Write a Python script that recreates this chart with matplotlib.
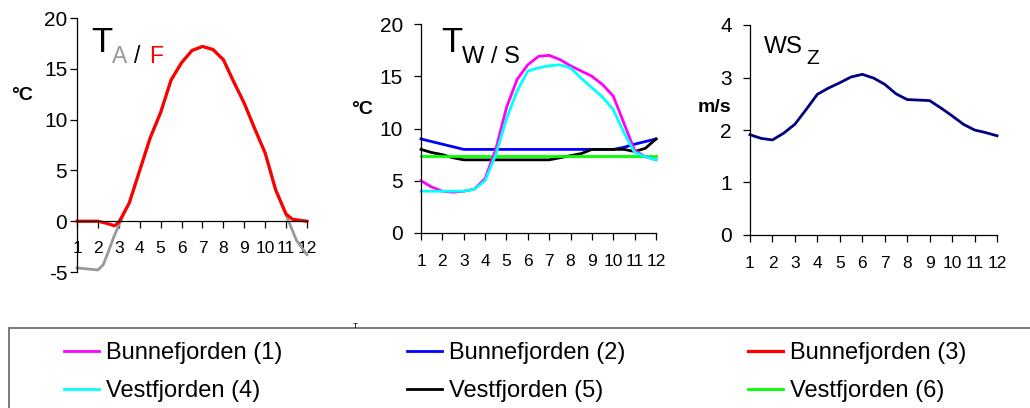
"""
Seasonal cycles: air/fjord temperature, water temperature per station, wind speed.
"""

import matplotlib
matplotlib.use("Agg")
import matplotlib.pyplot as plt
from matplotlib.patches import Rectangle

plt.rcParams["font.family"] = ["Liberation Sans", "DejaVu Sans"]
plt.rcParams["axes.unicode_minus"] = False
plt.rcParams["lines.solid_joinstyle"] = "round"

# ---- data ----
months = [1, 1.5, 2, 2.5, 3, 3.5, 4, 4.5, 5, 5.5, 6, 6.5, 7, 7.5, 8,
          8.5, 9, 9.5, 10, 10.5, 11, 11.5, 12]
month_ticks = list(range(1, 13))

# left panel: air (A) and fjord (F) temperature
f_months = [1, 1.5, 2, 2.4, 2.8, 3, 3.5, 4, 4.5, 5, 5.5, 6, 6.5, 7, 7.5, 8,
            8.5, 9, 9.5, 10, 10.5, 11, 11.3, 11.6, 12]
temp_f = [0, 0, 0, -0.2, -0.45, -0.1, 1.8, 5.0, 8.2, 10.7, 13.9, 15.6, 16.8,
          17.2, 16.9, 15.9, 13.7, 11.6, 9.1, 6.7, 3.1, 0.7, 0.2, 0.1, 0]
a_months = [1, 1.5, 2, 2.25, 2.5, 2.75, 3, 3.2, 3.5, 4, 4.5, 5, 5.5, 6, 6.5,
            7, 7.5, 8, 8.5, 9, 9.5, 10, 10.5, 11, 11.5, 12]
temp_a = [-4.6, -4.7, -4.8, -4.3, -3.0, -1.6, -0.4, 0.5, 1.8, 5.0, 8.2, 10.7,
          13.9, 15.6, 16.8, 17.2, 16.9, 15.9, 13.7, 11.6, 9.1, 6.7, 3.1, 0.6,
          -1.9, -3.3]

# middle panel: water temperature per station
bunne1 = [5.0, 4.4, 4.0, 3.9, 4.0, 4.2, 5.2, 8.0, 12.0, 14.7, 16.1, 16.9,
          17.0, 16.6, 16.0, 15.5, 15.0, 14.2, 13.1, 10.5, 7.9, 7.3, 7.0]
bunne2 = [9.0, 8.75, 8.5, 8.25, 8.0, 8.0, 8.0, 8.0, 8.0, 8.0, 8.0, 8.0,
          8.0, 8.0, 8.0, 8.0, 8.0, 8.0, 8.0, 8.2, 8.5, 8.75, 9.0]
vest4 = [4.0, 4.0, 4.0, 4.0, 4.0, 4.2, 5.0, 7.5, 10.9, 13.6, 15.5, 15.8,
         16.0, 16.1, 15.8, 14.8, 13.9, 13.0, 11.8, 9.6, 7.7, 7.3, 7.0]
vest5 = [8.0, 7.7, 7.5, 7.2, 7.0, 7.0, 7.0, 7.0, 7.0, 7.0, 7.0, 7.0,
         7.0, 7.2, 7.4, 7.6, 8.0, 8.0, 8.0, 8.0, 7.8, 8.1, 9.0]
vest6 = [7.4] * len(months)

# right panel: wind speed
wind = [1.91, 1.84, 1.81, 1.94, 2.11, 2.39, 2.68, 2.80, 2.90, 3.01, 3.06,
        2.99, 2.87, 2.69, 2.58, 2.57, 2.56, 2.42, 2.27, 2.11, 2.00, 1.95, 1.89]

W, H = 1030, 408


def px_rect(x0, y_top, x1, y_bottom):
    """Axes rectangle from pixel coordinates of the reference."""
    return [x0 / W, 1 - y_bottom / H, (x1 - x0) / W, (y_bottom - y_top) / H]


def style_axis(ax, ylim, ystep, ypad):
    ax.set_xlim(1, 12)
    ax.set_ylim(*ylim)
    ax.set_xticks(month_ticks)
    ax.set_yticks(range(ylim[0], ylim[1] + 1, ystep))
    for side in ("top", "right"):
        ax.spines[side].set_visible(False)
    for side in ("left", "bottom"):
        ax.spines[side].set_linewidth(0.9)
    ax.tick_params(axis="both", direction="out", length=5, width=0.9)
    ax.tick_params(axis="x", pad=10, labelsize=12.5)
    ax.tick_params(axis="y", pad=ypad, labelsize=15)
    ax.patch.set_alpha(0)


fig = plt.figure(figsize=(10.3, 4.08), dpi=100)

# ---- left: T A / F ----
ax_a = fig.add_axes(px_rect(77, 18, 307, 272))
ax_a.plot(a_months, temp_a, color="#999999", lw=2.0, clip_on=False)
(line_f,) = ax_a.plot(f_months, temp_f, color="#ff0000", lw=2.3, clip_on=False)
style_axis(ax_a, (-5, 20), 5, 2)
ax_a.spines["bottom"].set_position(("data", 0))
ax_a.tick_params(axis="x", pad=9)

# ---- middle: T W / S ----
ax_w = fig.add_axes(px_rect(421, 24, 656, 233))
(line2,) = ax_w.plot(months, bunne2, color="#0000ff", lw=2.0, clip_on=False)
(line5,) = ax_w.plot(months, vest5, color="black", lw=2.0, clip_on=False)
(line6,) = ax_w.plot(months, vest6, color="#00ff00", lw=2.0, clip_on=False)
(line1,) = ax_w.plot(months, bunne1, color="#ff00ff", lw=2.0, clip_on=False)
(line4,) = ax_w.plot(months, vest4, color="#00ffff", lw=2.0, clip_on=False)
style_axis(ax_w, (0, 20), 5, 8)

# ---- right: WS Z ----
ax_s = fig.add_axes(px_rect(750, 25, 997, 235))
ax_s.plot(months, wind, color="#000080", lw=2.0, clip_on=False)
style_axis(ax_s, (0, 4), 1, 8)


# panel titles (subscripts as separate smaller texts)
def ftext(x, y, s, **kw):
    fig.text(x / W, 1 - y / H, s, va="baseline", ha="left", **kw)


ftext(91, 52, "T", fontsize=25)
ftext(112, 63, "A", fontsize=16.5, color="#999999")
ftext(134, 63, "/", fontsize=16.5)
ftext(149, 63, "F", fontsize=16.5, color="#ff0000")

ftext(441, 52, "T", fontsize=25)
ftext(462, 63, "W / S", fontsize=17)

ftext(764, 53, "WS", fontsize=17.5)
ftext(806, 64, "Z", fontsize=15)

# unit labels
fig.text(22 / W, 1 - 96 / H, "°C", fontsize=14, fontweight="bold",
         ha="center", va="center")
fig.text(362 / W, 1 - 110 / H, "°C", fontsize=14, fontweight="bold",
         ha="center", va="center")
fig.text(714 / W, 1 - 107 / H, "m/s", fontsize=14, fontweight="bold",
         ha="center", va="center")

# stray tick mark visible above the legend box
fig.text(355 / W, 1 - 326 / H, "T", fontsize=6, ha="center", va="center")

# legend frame running off the right and bottom edges
fig.patches.append(Rectangle((9 / W, -0.05), 1.05, 1 - 328 / H + 0.05,
                             transform=fig.transFigure, fill=False,
                             edgecolor="#707070", lw=1.3, clip_on=False))

legend_cols = [
    (64, [line1, line4], ["Bunnefjorden (1)", "Vestfjorden (4)"]),
    (407, [line2, line5], ["Bunnefjorden (2)", "Vestfjorden (5)"]),
    (748, [line_f, line6], ["Bunnefjorden (3)", "Vestfjorden (6)"]),
]
for x0, handles, labels in legend_cols:
    fig.legend(handles, labels, loc="upper left",
               bbox_to_anchor=(x0 / W, 1 - 342 / H),
               bbox_transform=fig.transFigure, frameon=False, fontsize=17,
               handlelength=1.48, handletextpad=0.3, borderpad=0,
               borderaxespad=0, labelspacing=0.67)

fig.savefig("out.png", dpi=100)
